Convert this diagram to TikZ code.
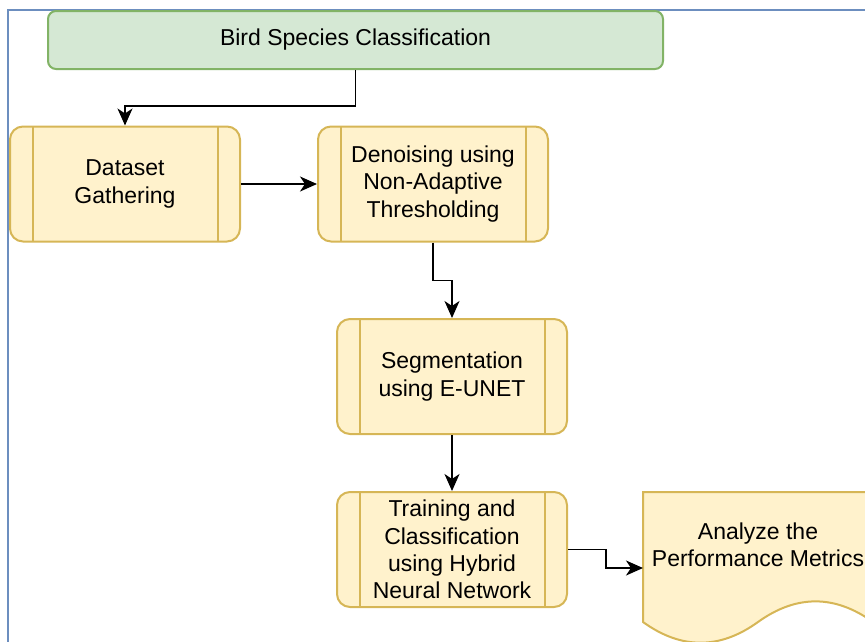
\documentclass[tikz,border=0pt]{standalone}
\usepackage{fontspec}
\setmainfont{Liberation Sans}
\usetikzlibrary{arrows.meta}

\definecolor{greenfill}{HTML}{D5E8D4}
\definecolor{greenline}{HTML}{82B366}
\definecolor{yellowfill}{HTML}{FFF2CC}
\definecolor{yellowline}{HTML}{D6B656}
\definecolor{frameblue}{HTML}{6C8EBF}

\begin{document}
\begin{tikzpicture}[
  x=1pt, y=-1pt,
  every node/.style={font={\fontsize{23}{27.3}\selectfont}, align=center, text=black},
  title/.style={draw=greenline, fill=greenfill, line width=2pt, rounded corners=8pt,
    minimum width=615pt, minimum height=58pt},
  stage/.style={draw=yellowline, fill=yellowfill, line width=2pt, rounded corners=13pt,
    minimum width=230pt, minimum height=115pt, inner sep=1pt,
    path picture={
      \draw[yellowline, line width=2pt]
        ([xshift=22.5pt]path picture bounding box.north west) -- ([xshift=22.5pt]path picture bounding box.south west)
        ([xshift=-22.5pt]path picture bounding box.north east) -- ([xshift=-22.5pt]path picture bounding box.south east);
    }},
  report/.style={draw=yellowline, fill=yellowfill, line width=2pt},
  edge/.style={line width=1.8pt, -{Stealth[length=17pt, width=15pt, inset=5pt]}}
]

\useasboundingbox (0,0) rectangle (865,641);
\clip (0,0) rectangle (865,641);

% outer frame
\draw[frameblue, line width=2.2pt] (8,10) rectangle (900,700);

\node[title] (title) at (355.5,40) {Bird Species Classification};

\node[stage] (data) at (125,184) {Dataset\\Gathering};
\node[stage] (denoise) at (433,184) {Denoising using\\Non-Adaptive\\Thresholding};
\node[stage] (seg) at (452,376.5) {Segmentation\\using E-UNET};
\node[stage] (train) at (452,549.5) {Training and\\Classification\\using Hybrid\\Neural Network};

% document with a wavy bottom edge
\draw[report] (643,492) -- (873,492) -- (873,622)
  .. controls (834.7,594.5) and (796.3,594.5) .. (758,622)
  .. controls (719.7,649.6) and (681.3,649.6) .. (643,622) -- cycle;
\node (report) at (758,545) {Analyze the\\Performance Metrics};
\coordinate (reportin) at (643,568);

\draw[edge] (title.south) -- ++(0,36) -| (data.north);
\draw[edge] (data) -- (denoise);
\draw[edge] (denoise.south) -- ++(0,38) -| (seg.north);
\draw[edge] (seg) -- (train);
\draw[edge] (train.east) -- ++(38,0) |- (reportin);
\end{tikzpicture}
\end{document}
